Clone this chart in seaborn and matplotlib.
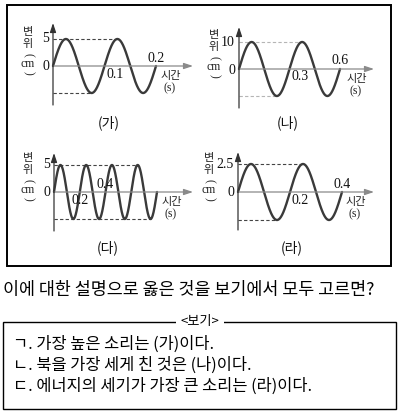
import numpy as np
import pandas as pd
import matplotlib
matplotlib.use("Agg")
import matplotlib.pyplot as plt
import seaborn as sns
from matplotlib.patches import Rectangle

# ---------------- data ----------------
panel_labels = ["(가)", "(나)", "(다)", "(라)"]
amplitudes = [5, 10, 5, 2.5]          # displacement amplitude (cm)
periods = [0.1, 0.3, 0.2, 0.2]        # period (s)
durations = [0.2, 0.6, 0.8, 0.4]      # shown time span (s)
amp_labels = ["5", "10", "5", "2.5"]
time_below = [0.1, 0.3, 0.2, 0.2]
time_below_labels = ["0.1", "0.3", "0.2", "0.2"]
time_above = [0.2, 0.6, 0.4, 0.4]
time_above_labels = ["0.2", "0.6", "0.4", "0.4"]
question = "이에 대한 설명으로 옳은 것을 보기에서 모두 고르면?"
box_title = "<보기>"
statements = ["ㄱ. 가장 높은 소리는 (가)이다.",
              "ㄴ. 북을 가장 세게 친 것은 (나)이다.",
              "ㄷ. 에너지의 세기가 가장 큰 소리는 (라)이다."]

# ---------------- style / layout ----------------
sns.set_theme(style="white")
plt.rcParams["font.family"] = ["Noto Sans CJK KR", "DejaVu Sans"]
SERIF = ["Liberation Serif", "DejaVu Serif"]

W, H = 403, 418
fig = plt.figure(figsize=(W / 100, H / 100), dpi=100)
fig.patch.set_facecolor("white")


def fx(x):
    return x / W


def fy(y):
    return 1 - y / H


def ftext(x, y, s, **kw):
    return fig.text(fx(x), fy(y), s, **kw)


# outer frame of the four graphs
fig.patches.append(Rectangle((fx(7), fy(266)), fx(391) - fx(7), fy(5) - fy(266),
                             transform=fig.transFigure, fill=False,
                             ec="black", lw=1.4))

origins = [(53, 66), (239, 69), (54, 192), (238, 192)]
wave_px = [103, 101, 103, 104]
amp_px = [27, 27, 27, 28]
xaxis_end = [193, 374, 193, 374]
yaxis_top = [23, 27, 153, 152]
yaxis_bot = [105, 108, 231, 230]
dash_top_k = [1, 1, 3, 1]
dash_bot_k = [0, 0, 3, 0]
dash_colors = ["#444444", "#b5b5b5", "#444444", "#444444"]
below_ha = ["left", "left", "center", "left"]
below_dx = [2, 2, 0, 1]
above_ha = ["center", "center", "center", "center"]
ylab_dx = [-25, -25, -26, -29]
title_pos = [(109, 123), (288, 123), (108, 248), (292, 248)]

rows = []
for i in range(4):
    t = np.linspace(0, durations[i], 600)
    rows.append(pd.DataFrame({"panel": panel_labels[i], "t": t,
                              "y": amplitudes[i] * np.sin(2 * np.pi * t / periods[i])}))
waves = pd.concat(rows, ignore_index=True)

for i in range(4):
    ox, oy = origins[i]
    sx = wave_px[i] / durations[i]
    sy = amp_px[i] / amplitudes[i]
    x1 = (xaxis_end[i] - ox) / sx
    y0 = -(yaxis_bot[i] - oy) / sy
    y1 = (oy - yaxis_top[i]) / sy
    ax = fig.add_axes([fx(ox), fy(yaxis_bot[i]), (xaxis_end[i] - ox) / W,
                       (yaxis_bot[i] - yaxis_top[i]) / H])
    ax.set_xlim(0, x1)
    ax.set_ylim(y0, y1)
    ax.set_axis_off()

    A, T = amplitudes[i], periods[i]
    # dashed guides
    tp = T / 4 + dash_top_k[i] * T
    tb = 3 * T / 4 + dash_bot_k[i] * T
    ax.plot([0, tp], [A, A], color=dash_colors[i], lw=0.8, ls=(0, (3, 2)), clip_on=False)
    ax.plot([0, tb], [-A, -A], color=dash_colors[i], lw=0.8, ls=(0, (3, 2)), clip_on=False)

    # axes with arrows
    ax.annotate("", xy=(x1, 0), xytext=(0, 0),
                arrowprops=dict(arrowstyle="-|>,head_length=0.45,head_width=0.15",
                                color="#8a8a8a", lw=0.9, shrinkA=0, shrinkB=0),
                annotation_clip=False)
    ax.annotate("", xy=(0, y1), xytext=(0, y0),
                arrowprops=dict(arrowstyle="-|>,head_length=0.45,head_width=0.15",
                                color="#333333", lw=0.9, shrinkA=0, shrinkB=0),
                annotation_clip=False)

    sub = waves[waves["panel"] == panel_labels[i]]
    sns.lineplot(data=sub, x="t", y="y", ax=ax, color="#3a3a3a", lw=1.7,
                 estimator=None, sort=False, legend=False)
    for ln in ax.lines:
        ln.set_clip_on(False)
    ax.set_xlim(0, x1)
    ax.set_ylim(y0, y1)
    ax.set_axis_off()

    # tick-like labels
    ftext(ox - 4, oy - amp_px[i], amp_labels[i], family=SERIF, fontsize=10,
          ha="right", va="center", color="#111")
    ftext(ox - 4, oy + 1, "0", family=SERIF, fontsize=10, ha="right", va="center", color="#111")
    xb = ox + time_below[i] * sx + below_dx[i]
    ftext(xb, oy + 8, time_below_labels[i], family=SERIF, fontsize=10,
          ha=below_ha[i], va="center", color="#111")
    xa = ox + time_above[i] * sx
    ftext(xa, oy - 8, time_above_labels[i], family=SERIF, fontsize=10,
          ha=above_ha[i], va="center", color="#111")
    ftext(ox + 118, oy + 10, "시간", fontsize=8, ha="center", va="center", color="#222")
    ftext(ox + 117, oy + 22, "(s)", family=SERIF, fontsize=8.5, ha="center", va="center", color="#222")

    # vertical axis label 변위(cm)
    lx = ox + ylab_dx[i]
    ftext(lx, oy - 34, "변", fontsize=8, ha="center", va="center", color="#222")
    ftext(lx, oy - 22, "위", fontsize=8, ha="center", va="center", color="#222")
    ftext(lx, oy - 11, "(", family=SERIF, fontsize=8.5, rotation=-90,
          ha="center", va="center", color="#222")
    ftext(lx, oy - 2, "cm", family=SERIF, fontsize=8.5, ha="center", va="center", color="#222")
    ftext(lx, oy + 7, ")", family=SERIF, fontsize=8.5, rotation=-90,
          ha="center", va="center", color="#222")

    tx, ty = title_pos[i]
    ftext(tx, ty, panel_labels[i], fontsize=10, ha="center", va="center", color="#111")

# question
ftext(3, 290, question, fontsize=12.5, ha="left", va="center", color="black")

# <보기> box
fig.patches.append(Rectangle((fx(3), fy(409)), fx(396) - fx(3), fy(322) - fy(409),
                             transform=fig.transFigure, fill=False, ec="black", lw=1.0))
ftext(200, 322, box_title, fontsize=9.5, ha="center", va="center", color="black",
      bbox=dict(facecolor="white", edgecolor="none", pad=3))
for k, s in enumerate(statements):
    ftext(13, 344 + 21 * k, s, fontsize=11.8, ha="left", va="center", color="black")

fig.savefig("out.png", dpi=100, facecolor="white")
